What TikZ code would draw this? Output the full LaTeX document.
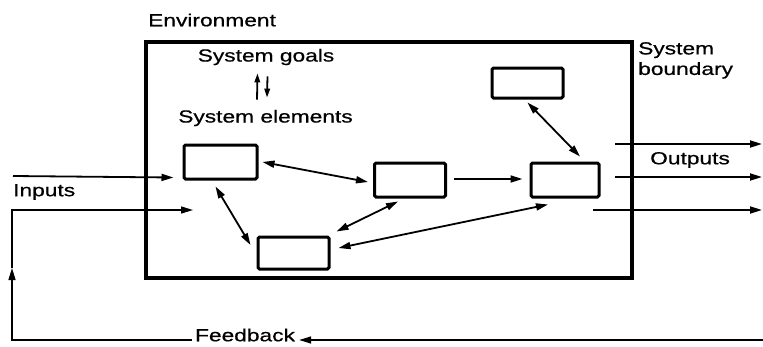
\documentclass[tikz,border=0pt]{standalone}
\usepackage{fontspec}
\setmainfont{Liberation Sans}[FakeStretch=1.3,FakeBold=0.6]
\usetikzlibrary{arrows.meta,calc}
\begin{document}
\begin{tikzpicture}[x=1pt,y=-1pt,
  lbl/.style={inner sep=0pt, font=\fontsize{17.5}{20.5}\selectfont},
  elem/.style={draw, line width=3pt, rounded corners=1.5pt, inner sep=0pt},
  con/.style={line width=1.8pt, -{Triangle[length=12pt,width=7pt]}},
  dcon/.style={line width=1.8pt, {Triangle[length=12pt,width=7pt]}-{Triangle[length=12pt,width=7pt]}},
  small/.style={line width=1.8pt, -{Triangle[length=9pt,width=5.5pt]}},
  fline/.style={line width=1.5pt}]
\useasboundingbox (0,0) rectangle (763,346);
% system boundary
\node[draw, line width=3.2pt, minimum width=486pt, minimum height=236pt, inner sep=0pt] (sys) at (389,160) {};
% elements
\node[elem, minimum width=73pt, minimum height=34pt] (A) at (220.5,162) {};
\node[elem, minimum width=71pt, minimum height=32pt] (B) at (293.5,253) {};
\node[elem, minimum width=71pt, minimum height=34pt] (C) at (410,180) {};
\node[elem, minimum width=68pt, minimum height=34pt] (D) at (565,180) {};
\node[elem, minimum width=71pt, minimum height=30pt] (E) at (527.5,83) {};
% labels
\node[lbl, anchor=west] (env) at (148,20) {Environment};
\node[lbl] (goals) at (266,57) {System goals};
\node[lbl] (el) at (265.5,118) {System elements};
\node[lbl, anchor=north west, align=left] (bnd) at (638,42) {System\\boundary};
\node[lbl] (out) at (690,160) {Outputs};
\node[lbl, anchor=west] (inp) at (13,192) {Inputs};
\node[lbl] (fb) at (245,335) {Feedback};
% goals <-> elements
\draw[small] ($(el.north)+(-8.5,-10)$) -- ($(goals.south)+(-8.5,8)$);
\draw[small] ($(goals.south)+(1.5,11)$) -- ($(el.north)+(1.5,-12)$);
% connectors between elements
\draw[dcon] ($(A.east)+(4,0)$) -- ($(C.west)+(-5,2)$);
\draw[dcon] ($(A.south)+(-5,6)$) -- ($(B.west)+(-6,-8)$);
\draw[con] ($(C.east)+(7,-1)$) -- ($(D.west)+(-7,-1)$);
\draw[dcon] ($(E.south)+(0,3)$) -- ($(D.north)+(15,-5)$);
\draw[dcon] ($(C.south)+(-12,3)$) -- ($(B.north east)+(6,-4)$);
\draw[dcon] ($(D.south)+(-17,6)$) -- ($(B.east)+(8,-5)$);
% inputs
\coordinate (ins) at (13,176);
\draw[con] (ins) -- ($(A.south west)+(-9,-3)$);
% outputs
\coordinate (o1s) at (615,144); \coordinate (o1e) at (762,144);
\coordinate (o2s) at (615,177); \coordinate (o2e) at (762,177);
\coordinate (o3s) at (593,210); \coordinate (o3e) at (762,210);
\draw[con] (o1s) -- (o1e);
\draw[con] (o2s) -- (o2e);
\draw[con] (o3s) -- (o3e);
% feedback loop
\coordinate (fbr) at (763,340);
\coordinate (fbm) at (12,268);
\coordinate (fbin) at (193,210);
\draw[fline, -{Triangle[length=12pt,width=7pt]}] (fbr) -- ($(fb.east)+(4,5)$);
\draw[fline, -{Triangle[length=12pt,width=7pt]}] ($(fb.west)+(-3,5)$) -| (fbm);
\draw[fline, -{Triangle[length=12pt,width=7pt]}] (fbm) |- (fbin);
\end{tikzpicture}
\end{document}
